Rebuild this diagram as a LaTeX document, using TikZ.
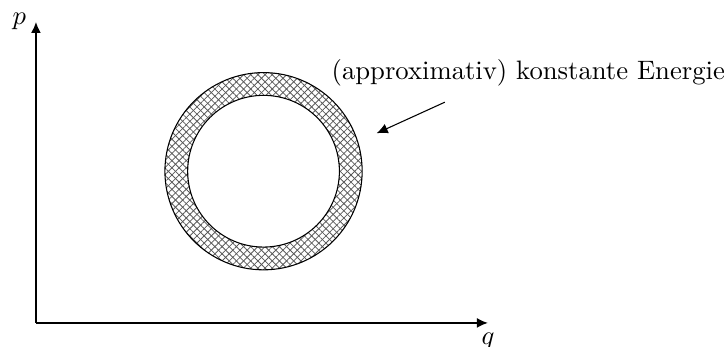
\documentclass[tikz,border=0pt]{standalone}
\usetikzlibrary{patterns.meta,arrows.meta}
\tikzset{
  spitze/.style={-{Latex[length=4.2pt,width=3.8pt]}},
  achse/.style={thick,spitze},
  ring/.style={even odd rule,pattern={Lines[angle=45,distance=1.9pt,line width=0.3pt]},pattern color=black!65},
  ringb/.style={even odd rule,pattern={Lines[angle=-45,distance=1.9pt,line width=0.3pt]},pattern color=black!65}
}
\begin{document}
\begin{tikzpicture}
                    \useasboundingbox (-0.474,-0.316) rectangle (9.07,4.257);
                    % Achsen
                    \coordinate (O) at (0,0);
                    \coordinate (qend) at (5.96,0);
                    \coordinate (pend) at (0,3.97);
                    \draw[achse] (O) -- (qend) node[below] (qlab) {$q$};
                    \draw[achse] (O) -- (pend) node[left] (plab) {$p$};

                    % Ring konstanter Energie
                    \coordinate (M) at (3,2);
                    \fill[ring] (M) circle (1.3) (M) circle (1.0);
                    \fill[ringb] (M) circle (1.3) (M) circle (1.0);
                    \draw (M) circle (1.3);
                    \draw (M) circle (1.0);

                    % Beschriftung
                    \node (energie) at (6.49,3.3) {(approximativ) konstante Energie};
                    \coordinate (start) at (5.39,2.91);
                    \coordinate (ziel) at (4.49,2.5);
                    \draw[spitze] (start) -- (ziel);
\end{tikzpicture}
\end{document}
